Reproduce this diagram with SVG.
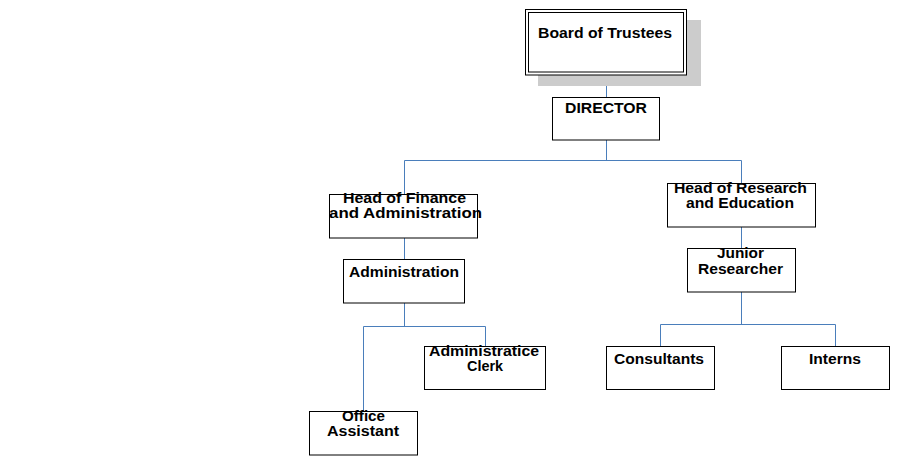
<svg xmlns="http://www.w3.org/2000/svg" width="902" height="465" viewBox="0 0 902 465">
<style>
.box{fill:#fff;stroke:#000;stroke-width:1}
.conn{fill:none;stroke:#4a7ebb;stroke-width:1}
text{font-family:"Liberation Sans",Arial,sans-serif;font-weight:bold;font-size:14px;fill:#000;text-anchor:middle}
</style>
<rect width="902" height="465" fill="#fff"/>
<g id="connectors">
<path class="conn" d="M606.5 75V97M606.5 140V160.5M404.5 160.5H741.5M404.5 160.5V194M741.5 160.5V183"/>
<path class="conn" d="M404.5 238V259M404.5 303V326.5M363.5 326.5H485.5M363.5 326.5V411M485.5 326.5V346"/>
<path class="conn" d="M741.5 227V248M741.5 292V324.5M660.5 324.5H835.5M660.5 324.5V346M835.5 324.5V346"/>
</g>
<g id="board">
<rect x="538" y="20" width="163" height="66" fill="#cccccc"/>
<rect class="box" x="525.5" y="9.5" width="161" height="65.5"/>
<rect class="box" x="528.5" y="12.5" width="155" height="59.5"/>
<text x="605" y="38" textLength="134" lengthAdjust="spacingAndGlyphs">Board of Trustees</text>
</g>
<g id="director">
<rect class="box" x="552.5" y="97.5" width="107" height="42.5"/>
<text x="606" y="113" textLength="82" lengthAdjust="spacingAndGlyphs">DIRECTOR</text>
</g>
<g id="finance">
<rect class="box" x="329.5" y="194.5" width="148" height="43.5"/>
<text x="404.5" y="203" textLength="123" lengthAdjust="spacingAndGlyphs">Head of Finance</text>
<text x="405.5" y="217.5" textLength="153" lengthAdjust="spacingAndGlyphs">and Administration</text>
</g>
<g id="administration">
<rect class="box" x="343.5" y="259.5" width="121" height="43.5"/>
<text x="404" y="277" textLength="110" lengthAdjust="spacingAndGlyphs">Administration</text>
</g>
<g id="clerk">
<rect class="box" x="424.5" y="346.5" width="121" height="43"/>
<text x="484" y="356" textLength="110" lengthAdjust="spacingAndGlyphs">Administratice</text>
<text x="485" y="371" textLength="36" lengthAdjust="spacingAndGlyphs">Clerk</text>
</g>
<g id="office-assistant">
<rect class="box" x="309.5" y="411.5" width="108" height="43.5"/>
<text x="363.5" y="420.5" textLength="43" lengthAdjust="spacingAndGlyphs">Office</text>
<text x="363" y="436" textLength="72" lengthAdjust="spacingAndGlyphs">Assistant</text>
</g>
<g id="research">
<rect class="box" x="667.5" y="183.5" width="148" height="43.5"/>
<text x="740.5" y="193" textLength="133" lengthAdjust="spacingAndGlyphs">Head of Research</text>
<text x="740" y="208" textLength="108" lengthAdjust="spacingAndGlyphs">and Education</text>
</g>
<g id="junior">
<rect class="box" x="687.5" y="248.5" width="108" height="43.5"/>
<text x="740.5" y="258" textLength="47" lengthAdjust="spacingAndGlyphs">Junior</text>
<text x="740.5" y="274" textLength="85" lengthAdjust="spacingAndGlyphs">Researcher</text>
</g>
<g id="consultants">
<rect class="box" x="606.5" y="346.5" width="108" height="43"/>
<text x="659" y="364" textLength="90" lengthAdjust="spacingAndGlyphs">Consultants</text>
</g>
<g id="interns">
<rect class="box" x="781.5" y="346.5" width="108" height="43"/>
<text x="835" y="364" textLength="52" lengthAdjust="spacingAndGlyphs">Interns</text>
</g>
</svg>
